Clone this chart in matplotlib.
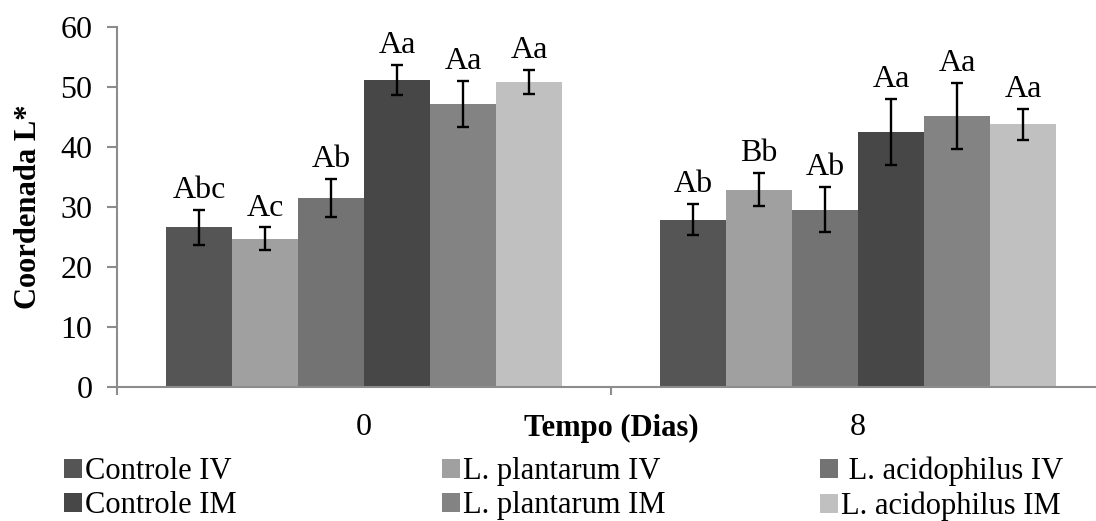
import numpy as np
import matplotlib
matplotlib.use('Agg')
import matplotlib.pyplot as plt

plt.rcParams['font.family'] = ['Liberation Serif', 'DejaVu Serif']

# data
dias = ['0', '8']
series = ['Controle IV', 'L. plantarum IV', ' L. acidophilus IV',
          'Controle IM', 'L. plantarum IM', 'L. acidophilus IM']
medias = [[26.6, 27.9],
          [24.7, 32.9],
          [31.5, 29.55],
          [51.2, 42.5],
          [47.2, 45.2],
          [50.8, 43.8]]
erros = [[2.95, 2.55],
         [1.9, 2.8],
         [3.2, 3.75],
         [2.45, 5.55],
         [3.85, 5.5],
         [2.0, 2.6]]
letras = [['Abc', 'Ab'],
          ['Ac', 'Bb'],
          ['Ab', 'Ab'],
          ['Aa', 'Aa'],
          ['Aa', 'Aa'],
          ['Aa', 'Aa']]
cores = ['#555555', '#a0a0a0', '#737373', '#474747', '#838383', '#c0c0c0']

W, H = 1096, 521
fig = plt.figure(figsize=(W / 100, H / 100), dpi=100)
# axes runs past the right edge, like the original
ax = fig.add_axes([117 / W, (H - 387) / H, 988 / W, 360 / H])

fs = 22
grey = '#8c8c8c'
x = np.arange(len(dias))
bw = 66 / 494

handles = []
for i in range(len(series)):
    pos = x + (i - 2.5) * bw
    b = ax.bar(pos, medias[i], bw, color=cores[i], edgecolor='none', label=series[i])
    handles.append(b)
    ax.errorbar(pos, medias[i], yerr=erros[i], fmt='none', ecolor='black',
                elinewidth=1.7, capsize=4.5, capthick=1.7)
    for j in range(len(dias)):
        ax.annotate(letras[i][j], xy=(pos[j], medias[i][j] + erros[i][j]),
                    xytext=(0, 3.5), textcoords='offset points',
                    ha='center', va='bottom', fontsize=fs + 1)

ax.set_xlim(-0.5, 1.5)
ax.set_ylim(0, 60)
ax.set_yticks(range(0, 61, 10))
ax.tick_params(axis='y', labelsize=fs + 1, length=7.2, width=1.5, color=grey, pad=10.5)

ax.set_xticks([-0.5, 0.5, 1.5])
ax.set_xticklabels([])
ax.set_xticks(x, minor=True)
ax.set_xticklabels(dias, minor=True)
ax.tick_params(axis='x', which='major', length=6, width=1.5, color=grey)
ax.tick_params(axis='x', which='minor', length=0, labelsize=fs + 1, pad=18.5)

for s in ['top', 'right']:
    ax.spines[s].set_visible(False)
for s in ['left', 'bottom']:
    ax.spines[s].set_color(grey)
    ax.spines[s].set_linewidth(1.5)

ax.set_xlabel('Tempo (Dias)', fontsize=fs, fontweight='bold')
ax.xaxis.set_label_coords(0.5, -0.074)
fig.text(29 / W, 0.5 * (2 * H - 387 - 27) / H, 'Coordenada L*', rotation=90,
         ha='center', va='center', fontsize=fs, fontweight='bold')

# legend: three columns, two rows each
col_x = [64, 442, 820]
for c in range(3):
    leg = fig.legend(handles=[handles[c], handles[c + 3]],
                     labels=[series[c], series[c + 3]],
                     loc='upper left', bbox_to_anchor=(col_x[c] / W, (H - 457) / H),
                     frameon=False, fontsize=fs, borderpad=0, borderaxespad=0,
                     handlelength=0.6, handleheight=0.6, handletextpad=0.1,
                     labelspacing=0.17)

fig.savefig('out.png', dpi=100)
